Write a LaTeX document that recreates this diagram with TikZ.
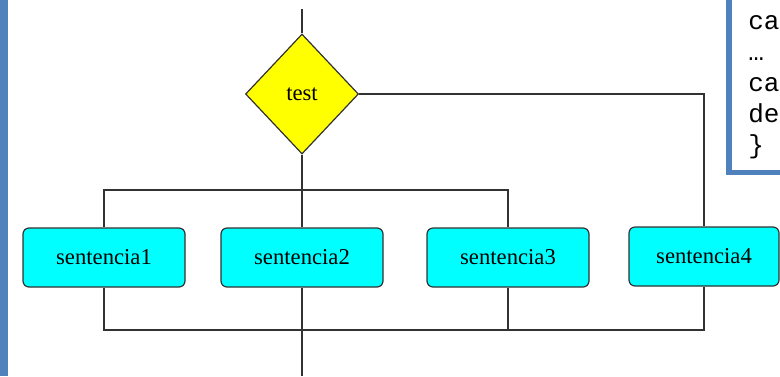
\documentclass[tikz,border=0pt]{standalone}
\usepackage{fontspec}
\setmainfont{Liberation Serif}
\setmonofont{Liberation Mono}
\usetikzlibrary{shapes.geometric}
\definecolor{barblue}{RGB}{79,129,189}
\definecolor{linegray}{RGB}{50,50,50}
\definecolor{boxcyan}{RGB}{0,255,255}
\definecolor{condyellow}{RGB}{255,255,0}

\begin{document}
\begin{tikzpicture}[x=0.75pt,y=-0.75pt,
  sent/.style={draw=linegray,fill=boxcyan,rounded corners=4.5pt,line width=0.9pt,
    minimum width=121.5pt,minimum height=44.25pt,inner sep=0pt,font=\fontsize{17}{20}\selectfont},
  cond/.style={diamond,draw=linegray,fill=condyellow,line width=0.9pt,inner sep=0pt,
    minimum width=84.75pt,minimum height=90pt,font=\fontsize{17}{20}\selectfont},
  code/.style={anchor=base west,inner sep=0pt,font=\ttfamily\fontsize{19.5}{22}\selectfont},
  wire/.style={draw=linegray,line width=1.2pt}]
\useasboundingbox (0,0) rectangle (780,376);
\clip (0,0) rectangle (780,376);
\fill[barblue] (0,0) rectangle (8,376);
\draw[barblue,line width=4.1pt] (729,-20) -- (729,172.5) -- (800,172.5);
\node[code] (c1) at (748,29) {ca};
\node[code] (c2) at (748,60) {…};
\node[code] (c3) at (748,91) {ca};
\node[code] (c4) at (748,122) {de};
\node[code] (c5) at (748,153) {\}};

\node[cond] (t) at (302,94) {test};
\node[sent] (s1) at (104,257.5) {sentencia1};
\node[sent] (s2) at (302,257.5) {sentencia2};
\node[sent] (s3) at (508,257.5) {sentencia3};
\node[sent,minimum width=112.5pt] (s4) at (704,256.5) {sentencia4};
\coordinate (in) at (302,9);
\coordinate (fork) at (302,190);
\coordinate (join) at (302,330);
\coordinate (out) at (302,376);

\path[wire] (in) -- (t.north)
  (t.south) -- (s2.north)
  (s1.north) |- (fork) -| (s3.north)
  (t.east) -| (s4.north)
  (s1.south) |- (join) -| (s4.south)
  (s3.south) -- (s3.south |- join)
  (s2.south) -- (out);
\end{tikzpicture}
\end{document}
